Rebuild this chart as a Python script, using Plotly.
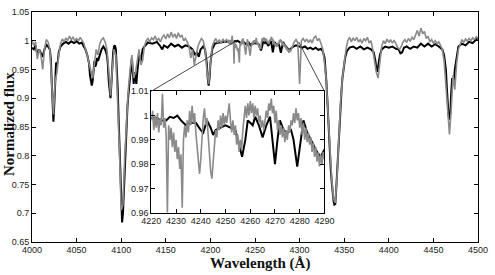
import plotly.graph_objects as go

# ---------------- data ----------------
# Model spectrum (black), wavelength in Angstrom
model_wl = [
    4000, 4002, 4004, 4006, 4008, 4010, 4012, 4014, 4016, 4018,
    4020, 4021, 4022, 4023, 4024, 4025, 4026, 4027, 4028, 4029,
    4030, 4032, 4035, 4038, 4041, 4044, 4047, 4050, 4053, 4056,
    4058, 4060, 4062, 4064, 4065, 4066, 4067, 4068, 4069, 4070,
    4071, 4072, 4073, 4074, 4076, 4078, 4080, 4082, 4084, 4085,
    4086, 4087, 4088, 4089, 4090, 4091, 4092, 4093, 4094, 4095,
    4096, 4097, 4098, 4099, 4100, 4101, 4102, 4103, 4104, 4105,
    4106, 4107, 4108, 4109, 4110, 4111, 4112, 4113, 4114, 4115,
    4116, 4117, 4118, 4119, 4120, 4121, 4122, 4123, 4124, 4126,
    4130, 4135, 4140, 4144, 4146, 4148, 4152, 4156, 4160, 4164,
    4168, 4172, 4176, 4180, 4183, 4185, 4187, 4189, 4192, 4194,
    4196, 4197, 4198, 4199, 4200, 4202, 4205, 4210, 4215, 4220,
    4222, 4224, 4226, 4227.5, 4229, 4230.5, 4232, 4234, 4236, 4238,
    4240, 4241, 4242.5, 4244, 4245, 4246, 4248, 4250, 4252, 4254,
    4255.5, 4256.7, 4258, 4259, 4260, 4261, 4262, 4263.5, 4265, 4266.5,
    4268, 4269, 4270, 4271, 4272, 4273.5, 4275, 4276.5, 4277.5, 4279,
    4280.5, 4281.5, 4283, 4284.5, 4285.5, 4287, 4288.5, 4290, 4293, 4296,
    4300, 4303, 4306, 4309, 4312, 4315, 4318, 4321, 4324, 4326,
    4328, 4329, 4330, 4331, 4332, 4333, 4334, 4335, 4336, 4337,
    4338, 4339, 4340, 4341, 4342, 4343, 4344, 4345, 4346, 4347,
    4348, 4349, 4351, 4353, 4356, 4360, 4364, 4368, 4372, 4376,
    4380, 4383, 4385, 4386, 4387, 4388, 4389, 4390, 4392, 4396,
    4400, 4404, 4408, 4411, 4413, 4415, 4417, 4420, 4424, 4428,
    4432, 4436, 4440, 4444, 4448, 4452, 4456, 4460, 4462, 4464,
    4465, 4466, 4467, 4468, 4469, 4470, 4471, 4472, 4473, 4474,
    4476, 4478, 4482, 4486, 4490, 4494, 4498, 4500,
]
model_flux = [
    0.988, 0.985, 0.992, 0.975, 0.985, 0.978, 0.972, 0.985, 0.993, 0.990,
    0.985, 0.970, 0.940, 0.890, 0.859, 0.890, 0.940, 0.962, 0.958, 0.965,
    0.980, 0.990, 0.995, 0.998, 0.995, 0.999, 0.996, 0.999, 0.995, 0.997,
    0.990, 0.985, 0.975, 0.960, 0.940, 0.925, 0.922, 0.930, 0.950, 0.965,
    0.955, 0.960, 0.970, 0.965, 0.975, 0.985, 0.990, 0.985, 0.975, 0.960,
    0.930, 0.905, 0.900, 0.925, 0.960, 0.980, 0.990, 0.992, 0.985, 0.960,
    0.920, 0.870, 0.820, 0.760, 0.705, 0.684, 0.700, 0.740, 0.790, 0.830,
    0.860, 0.885, 0.905, 0.925, 0.945, 0.960, 0.970, 0.945, 0.925, 0.945,
    0.930, 0.925, 0.945, 0.965, 0.975, 0.970, 0.965, 0.975, 0.985, 0.990,
    0.997, 0.995, 0.998, 0.990, 0.985, 0.992, 0.988, 0.995, 0.990, 0.993,
    0.988, 0.992, 0.990, 0.985, 0.975, 0.980, 0.972, 0.985, 0.990, 0.985,
    0.960, 0.935, 0.922, 0.935, 0.960, 0.985, 0.995, 0.997, 0.998, 0.999,
    0.999, 0.998, 0.998, 0.9995, 0.999, 1.000, 0.998, 0.996, 0.997, 0.997,
    0.994, 0.993, 0.998, 0.995, 0.992, 0.994, 0.995, 0.996, 0.995, 0.994,
    0.988, 0.983, 0.990, 0.998, 0.997, 0.996, 0.9995, 0.996, 0.991, 0.996,
    0.9995, 0.990, 0.980, 0.990, 0.998, 0.994, 0.993, 0.994, 0.990, 0.979,
    0.990, 0.998, 0.993, 0.990, 0.988, 0.985, 0.983, 0.986, 0.990, 0.992,
    0.990, 0.988, 0.990, 0.986, 0.988, 0.985, 0.988, 0.984, 0.986, 0.982,
    0.970, 0.955, 0.930, 0.900, 0.865, 0.830, 0.800, 0.775, 0.755, 0.735,
    0.722, 0.715, 0.716, 0.740, 0.770, 0.800, 0.835, 0.870, 0.895, 0.914,
    0.935, 0.950, 0.970, 0.982, 0.988, 0.990, 0.986, 0.990, 0.985, 0.988,
    0.985, 0.980, 0.965, 0.950, 0.946, 0.955, 0.965, 0.975, 0.985, 0.990,
    0.988, 0.990, 0.986, 0.985, 0.978, 0.980, 0.988, 0.990, 0.986, 0.990,
    0.988, 0.995, 0.990, 0.995, 0.990, 0.994, 0.990, 0.985, 0.975, 0.950,
    0.920, 0.890, 0.870, 0.863, 0.875, 0.910, 0.935, 0.928, 0.930, 0.950,
    0.975, 0.990, 0.995, 0.992, 0.998, 0.996, 1.002, 1.005,
]

# Observed spectrum (grey): three segments on regular wavelength grids
obs_start_a, obs_step_a = 4000, 2.0
obs_flux_a = [
    1.000, 0.992, 0.998, 0.968, 0.985, 0.975, 0.950, 0.985, 1.002, 0.998,
    0.985, 0.930, 0.872, 0.930, 0.945, 0.975, 0.995, 1.003, 0.998, 1.005,
    1.000, 1.008, 1.002, 1.006, 1.000, 1.004, 1.000, 1.006, 1.000, 0.996,
    0.985, 0.975, 0.960, 0.945, 0.935, 0.960, 0.985, 0.975, 0.995, 1.002,
    1.005, 0.998, 0.985, 0.950, 0.905, 0.950, 0.985, 0.975, 0.900, 0.810,
    0.705, 0.715, 0.800, 0.870, 0.915, 0.950, 0.975, 0.935, 0.945, 0.965,
    0.985, 0.958, 0.965, 0.990, 1.000, 1.004, 0.998, 1.005, 1.002, 1.008,
    1.000, 1.004, 0.998, 1.006, 1.010, 1.003, 1.012, 1.005, 1.015, 1.006,
    1.012, 1.004, 1.014, 1.006, 1.010, 1.000, 1.004, 0.998, 0.990, 0.970,
    0.985, 0.958, 0.975, 0.990, 0.998, 1.004, 1.000, 0.985, 0.950, 0.925,
    0.960, 0.990, 0.998, 1.004, 0.996, 1.002, 0.995, 1.003, 0.998, 1.002,
]
obs_start_b, obs_step_b = 4220, 0.5
obs_flux_b = [
    0.998, 1.002, 0.994, 1.000, 0.995, 1.001, 0.993, 0.999, 0.996, 1.009,
    0.995, 0.999, 0.992, 0.960, 0.996, 0.990, 0.995, 0.987, 0.993, 0.985,
    0.990, 0.982, 0.987, 0.978, 0.984, 0.962, 0.990, 0.996, 0.991, 0.998,
    0.993, 1.002, 0.996, 1.004, 0.997, 1.001, 0.993, 0.988, 0.980, 0.976,
    0.982, 0.992, 0.999, 1.003, 0.996, 0.999, 0.990, 0.984, 0.977, 0.974,
    0.980, 0.988, 0.994, 0.991, 0.998, 0.994, 1.000, 0.995, 1.001, 0.996,
    1.000, 0.997, 1.002, 1.005, 0.998, 0.993, 0.998, 0.992, 0.996, 0.988,
    0.992, 0.985, 0.990, 0.986, 0.994, 0.999, 1.004, 0.999, 1.005, 1.000,
    1.006, 1.001, 1.005, 0.999, 1.004, 1.000, 1.003, 0.997, 1.000, 0.995,
    0.998, 0.994, 0.999, 1.002, 0.999, 1.005, 1.002, 1.007, 1.001, 1.004,
    0.997, 1.002, 0.994, 0.998, 0.992, 0.996, 0.991, 0.995, 0.989, 0.994,
    0.990, 0.996, 0.993, 0.998, 0.996, 1.001, 0.997, 1.003, 0.998, 1.001,
    0.995, 0.999, 0.992, 0.997, 0.990, 0.995, 0.989, 0.993, 0.988, 0.991,
    0.985, 0.989, 0.983, 0.987, 0.981, 0.985, 0.979, 0.984, 0.980, 0.985,
    0.982,
]
obs_start_c, obs_step_c = 4292, 2.0
obs_flux_c = [
    0.990, 0.998, 1.002, 0.996, 0.925, 1.000, 1.004, 0.998, 1.003, 0.997,
    1.002, 0.996, 1.005, 1.008, 1.000, 1.004, 0.995, 0.985, 0.960, 0.930,
    0.870, 0.805, 0.760, 0.725, 0.718, 0.765, 0.835, 0.895, 0.935, 0.965,
    0.985, 1.000, 1.006, 0.998, 1.005, 1.000, 1.006, 0.998, 1.002, 0.996,
    1.004, 1.000, 1.006, 0.996, 1.000, 0.985, 0.965, 0.945, 0.935, 0.960,
    0.990, 1.000, 0.995, 1.003, 0.997, 1.002, 0.996, 1.001, 0.995, 0.988,
    0.985, 0.990, 0.998, 1.002, 0.997, 1.004, 0.999, 1.006, 1.002, 1.010,
    1.018, 1.008, 1.022, 1.012, 1.016, 1.004, 1.008, 0.998, 1.002, 0.996,
    1.000, 0.995, 0.998, 0.992, 0.985, 0.965, 0.920, 0.870, 0.837, 0.880,
    0.940, 0.915, 0.960, 0.985, 0.995, 1.002, 0.997, 1.003, 0.999, 1.004,
    1.000, 1.005, 1.002, 1.007, 1.004,
]

# ticks
main_xticks = [4000, 4050, 4100, 4150, 4200, 4250, 4300, 4350, 4400, 4450, 4500]
main_yticks = [0.65, 0.7, 0.75, 0.8, 0.85, 0.9, 0.95, 1.0, 1.05]
main_ytext = ["0.65", "0.7", "0.75", "0.8", "0.85", "0.9", "0.95", "1", "1.05"]
inset_xticks = [4220, 4230, 4240, 4250, 4260, 4270, 4280, 4290]
inset_yticks = [0.96, 0.97, 0.98, 0.99, 1.0, 1.01]
inset_ytext = ["0.96", "0.97", "0.98", "0.99", "1", "1.01"]

# ------------- build grids -------------
obs_wl = ([obs_start_a + obs_step_a * i for i in range(len(obs_flux_a))]
          + [obs_start_b + obs_step_b * i for i in range(len(obs_flux_b))]
          + [obs_start_c + obs_step_c * i for i in range(len(obs_flux_c))])
obs_flux = obs_flux_a + obs_flux_b + obs_flux_c

BLACK = "#000000"
GREY = "#8a8a8a"
TICKFONT = dict(family="Liberation Sans, Arial, sans-serif", size=9, color="#222222")
TITLEFONT = dict(family="Liberation Serif, Times New Roman, serif", size=15, color="#111111")

fig = go.Figure()
# main panel
fig.add_trace(go.Scatter(x=model_wl, y=model_flux, mode="lines",
                         line=dict(color=BLACK, width=2.0), xaxis="x", yaxis="y",
                         showlegend=False, hoverinfo="skip"))
fig.add_trace(go.Scatter(x=obs_wl, y=obs_flux, mode="lines",
                         line=dict(color=GREY, width=1.6), xaxis="x", yaxis="y",
                         showlegend=False, hoverinfo="skip"))
# inset
fig.add_trace(go.Scatter(x=model_wl, y=model_flux, mode="lines",
                         line=dict(color=BLACK, width=2.0), xaxis="x2", yaxis="y2",
                         showlegend=False, hoverinfo="skip"))
fig.add_trace(go.Scatter(x=obs_wl, y=obs_flux, mode="lines",
                         line=dict(color=GREY, width=1.6), xaxis="x2", yaxis="y2",
                         showlegend=False, hoverinfo="skip"))

W, H = 495, 275
ML, MR, MT, MB = 32, 7, 7, 33
PW, PH = W - ML - MR, H - MT - MB

def fx(px):
    return (px - ML) / PW

def fy(py):
    return (H - MB - py) / PH

ins_x = [fx(154), fx(331)]
ins_y = [fy(212), fy(88)]

axis_common = dict(showline=True, linecolor="black", linewidth=1, mirror="ticks",
                   ticks="inside", ticklen=4, tickcolor="black", showgrid=False,
                   zeroline=False, tickfont=TICKFONT)

fig.update_layout(
    width=W, height=H,
    margin=dict(l=ML, r=MR, t=MT, b=MB),
    paper_bgcolor="white", plot_bgcolor="white",
    xaxis=dict(domain=[0, 1], range=[4000, 4500], tickvals=main_xticks,
               anchor="y", ticklabelstandoff=-1, **axis_common),
    yaxis=dict(domain=[0, 1], range=[0.65, 1.05], tickvals=main_yticks,
               ticktext=main_ytext, anchor="x", **axis_common),
    xaxis2=dict(domain=ins_x, range=[4220, 4290], tickvals=inset_xticks,
                anchor="y2", **axis_common),
    yaxis2=dict(domain=ins_y, range=[0.96, 1.01], tickvals=inset_yticks,
                ticktext=inset_ytext, anchor="x2", **axis_common),
)

# zoom connector lines (main-axis data coordinates)
def frac_to_data(frac_x, frac_y):
    return 4000 + frac_x * 500, 0.65 + frac_y * 0.4

lx, ly = frac_to_data(ins_x[0], ins_y[1])
rx, ry = frac_to_data(ins_x[1], ins_y[1])
fig.add_shape(type="line", xref="x", yref="y", x0=lx, y0=ly, x1=4228, y1=0.999,
              line=dict(color="#333333", width=0.9))
fig.add_shape(type="line", xref="x", yref="y", x0=rx, y0=ry, x1=4299, y1=0.998,
              line=dict(color="#333333", width=0.9))

fig.add_annotation(text="<b>Wavelength (Å)</b>", xref="paper", yref="paper",
                   x=fx(265), y=fy(264), xanchor="center", yanchor="middle",
                   showarrow=False, font=TITLEFONT)
fig.add_annotation(text="<b>Normalized flux</b>", xref="paper", yref="paper",
                   x=fx(8), y=fy(122), xanchor="center", yanchor="middle",
                   textangle=-90, showarrow=False, font=TITLEFONT)

fig.write_html("out.html")
